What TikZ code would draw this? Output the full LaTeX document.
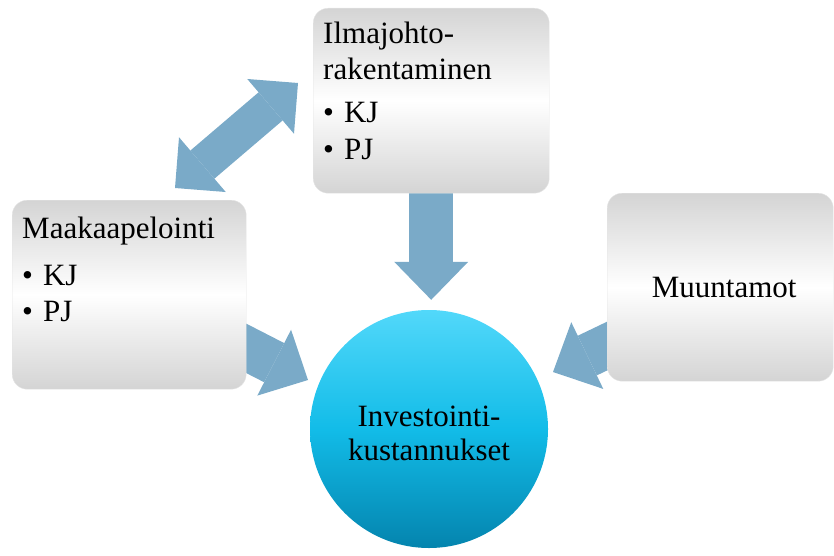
\documentclass[tikz,border=0pt]{standalone}
\usepackage{fontspec}
\setmainfont{Liberation Serif}
\usetikzlibrary{arrows.meta, backgrounds, positioning}
\definecolor{boxgray}{RGB}{212,212,212}
\definecolor{arrowblue}{RGB}{122,170,200}
\definecolor{circtop}{RGB}{82,216,250}
\definecolor{circmid}{RGB}{18,188,232}
\definecolor{circbot}{RGB}{4,132,174}

\begin{document}
\begin{tikzpicture}[x=1pt, y=-1pt,
    box/.style = {rectangle, rounded corners=15pt, top color=boxgray, bottom color=boxgray,
      middle color=white, draw=black!10, inner sep=0pt},
    boxtext/.style = {align=left, inner sep=0pt, font=\fontsize{31}{36.5}\selectfont},
    fatarrow/.style = {arrowblue, line width=44pt,
      -{Triangle[length=38pt, width=74pt, line width=0pt]}},
    dblarrow/.style = {arrowblue, line width=37pt,
      {Triangle[length=36pt, width=72pt, line width=0pt]}-{Triangle[length=36pt, width=72pt, line width=0pt]}}
  ]
    \useasboundingbox (0,0) rectangle (834,556);

    % boxes
    \node[box, minimum width=236pt, minimum height=185pt, anchor=north west] (ilma) at (313,8) {};
    \node[boxtext, anchor=north west] (ilma-txt) at (323,22)
      {Ilmajohto-\\[-1pt]rakentaminen\\[7pt]\textbullet\hspace{10pt}KJ\\\textbullet\hspace{10pt}PJ};

    \node[box, minimum width=234pt, minimum height=189pt, anchor=north west] (maa) at (12,200) {};
    \node[boxtext, anchor=north west] (maa-txt) at (22,217)
      {Maakaapelointi\\[10pt]\textbullet\hspace{10pt}KJ\\\textbullet\hspace{10pt}PJ};

    \node[box, minimum width=226pt, minimum height=188pt, anchor=north west] (muu) at (607,193) {};
    \node[boxtext] (muu-txt) at ([xshift=4pt]muu.center) {Muuntamot};

    % circle
    \node[circle, minimum size=238pt, inner sep=0pt, top color=circtop, bottom color=circbot,
      middle color=circmid] (inv) at (429,429) {};
    \node[align=center, inner sep=0pt, font=\fontsize{31}{34}\selectfont] (inv-txt)
      at ([yshift=-4pt]inv.center) {Investointi-\\kustannukset};

    % arrows
    \coordinate (maa-out) at (228,339);
    \coordinate (maa-tip) at (308,380);
    \coordinate (muu-out) at (626,337);
    \coordinate (muu-tip) at (553,372);
    \coordinate (dbl-a) at (175,188);
    \coordinate (dbl-b) at (298,83);
    \begin{scope}[on background layer]
      \draw[fatarrow] (ilma.south) -- ([yshift=10pt]ilma.south |- inv.north);
      \draw[fatarrow] (maa-out) -- (maa-tip);
      \draw[fatarrow] (muu-out) -- (muu-tip);
      \draw[dblarrow] (dbl-a) -- (dbl-b);
    \end{scope}
  \end{tikzpicture}
\end{document}
